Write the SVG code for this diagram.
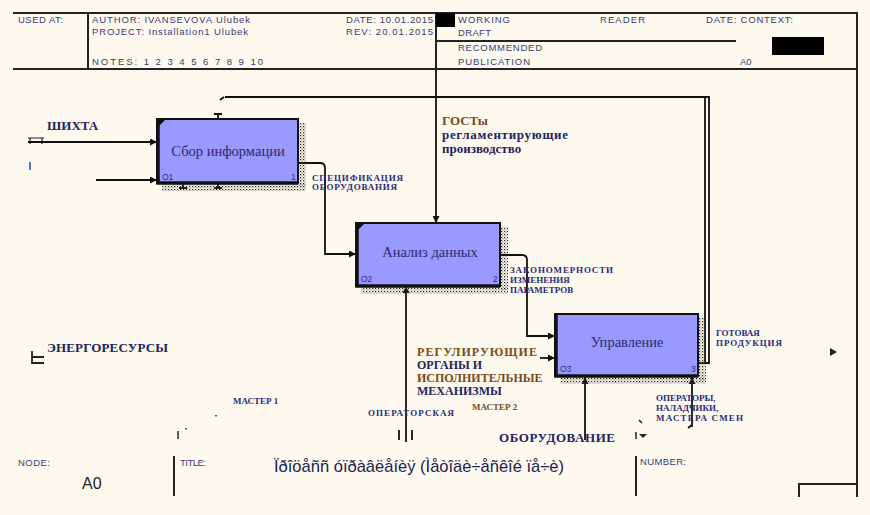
<svg xmlns="http://www.w3.org/2000/svg" width="870" height="515" viewBox="0 0 870 515">
<defs>
<style>
.bg{fill:#fdf9ef}
.frame{fill:none;stroke:#222;stroke-width:2}
.hdr{font-family:"Liberation Sans",Arial,sans-serif;font-size:9.5px;fill:#3a3a70}
.box{fill:#9999ff;stroke:#111;stroke-width:2}
.edge{stroke:#111;stroke-width:3.5;fill:none}
.btxt{font-family:"Liberation Serif","Times New Roman",serif;font-size:14.5px;fill:#2a2a6a;text-anchor:middle}
.num{font-family:"Liberation Sans",Arial,sans-serif;font-size:8.5px;fill:#2a2a8a}
.conn{fill:none;stroke:#111;stroke-width:1.8}
.lbl{font-family:"Liberation Serif","Times New Roman",serif;font-weight:bold;fill:#23235e}
.sm{font-family:"Liberation Serif","Times New Roman",serif;font-size:9px;font-weight:bold;fill:#2a2a7a}
.or{fill:#7a4a18}
</style>
<pattern id="dots" width="3" height="3" patternUnits="userSpaceOnUse">
<rect x="0" y="0" width="1.2" height="1.2" fill="#222"/>
<rect x="1.5" y="1.5" width="1" height="1" fill="#555"/>
</pattern>
<marker id="ah" viewBox="0 0 10 10" refX="10" refY="5" markerWidth="7" markerHeight="7" orient="auto" markerUnits="userSpaceOnUse">
<path d="M0,0 L10,5 L0,10 z" fill="#111"/>
</marker>
</defs>
<rect class="bg" x="0" y="0" width="870" height="515"/>

<g id="frame">
<path class="frame" d="M13,13 H857 V497 M13,69 H857 M88,13 V69 M436,13 V69 M436,41 H736 M799,497 V484 H857"/>
<rect x="436" y="13" width="19" height="14" fill="#000"/>
<rect x="772" y="37" width="52" height="18" fill="#000"/>
<text class="hdr" x="18" y="23" textLength="45">USED AT:</text>
<text class="hdr" x="92" y="23" textLength="158">AUTHOR:  IVANSEVOVA Ulubek</text>
<text class="hdr" x="92" y="35" textLength="156">PROJECT:  Installation1 Ulubek</text>
<text class="hdr" x="92" y="65" textLength="171">NOTES:  1  2  3  4  5  6  7  8  9  10</text>
<text class="hdr" x="346" y="23" textLength="87">DATE:  10.01.2015</text>
<text class="hdr" x="346" y="35" textLength="87">REV:  20.01.2015</text>
<text class="hdr" x="458" y="23" textLength="52">WORKING</text>
<text class="hdr" x="458" y="36" textLength="33">DRAFT</text>
<text class="hdr" x="458" y="51" textLength="84">RECOMMENDED</text>
<text class="hdr" x="458" y="65" textLength="72">PUBLICATION</text>
<text class="hdr" x="600" y="23" textLength="45">READER</text>
<text class="hdr" x="706" y="23" textLength="87">DATE:  CONTEXT:</text>
<text class="hdr" x="740" y="65">A0</text>
<path class="frame" d="M174,456 V496 M636,456 V496"/>
<text class="hdr" x="18" y="466" textLength="32">NODE:</text>
<text x="82" y="489" font-family="Liberation Sans,Arial,sans-serif" font-size="16" fill="#222">A0</text>
<text class="hdr" x="180" y="466" textLength="26">TITLE:</text>
<text x="274" y="472" font-family="Liberation Sans,Arial,sans-serif" font-size="17" fill="#222250" textLength="290" lengthAdjust="spacingAndGlyphs">Ïðîöåññ  óïðàâëåíèÿ (Ìåòîäè÷åñêîé ïå÷è)</text>
<text class="hdr" x="640" y="465" textLength="46">NUMBER:</text>
</g>

<g id="connectors">
<path class="conn" d="M28,142 H157" marker-end="url(#ah)"/>
<path class="conn" d="M96,180 H157" marker-end="url(#ah)"/>
<path class="conn" d="M298,163 H320 Q325,163 325,168 V254 H356" marker-end="url(#ah)"/>
<path class="conn" d="M436,69 V223" marker-end="url(#ah)"/>
<path class="conn" d="M225,97 H709 V363 H705 V97"/>
<path class="conn" d="M698,363 H705"/>
<path class="conn" d="M500,255 H522 Q527,255 527,260 V336 H555" marker-end="url(#ah)"/>
<path class="conn" d="M540,358 H555" marker-end="url(#ah)"/>
<path class="conn" d="M406,442 V286" marker-end="url(#ah)"/>
<path class="conn" d="M399,430 V440 M412,430 V440"/>
<path class="conn" d="M585,440 V377" marker-end="url(#ah)"/>
<path class="conn" d="M692,427 V377" marker-end="url(#ah)"/>
<path class="conn" d="M688,428 L692,425"/>
<path class="conn" d="M218,114 V119 M214,114 H222"/>
<path class="conn" d="M183,183 V188 M179,188 H187 M218,183 V188 M214,188 H222"/>
<path class="conn" d="M220,100 L224,97"/>
<path fill="none" stroke="#222" stroke-width="1.2" d="M28,138 H44 M30,138 V144 M42,138 V144"/>
<path fill="none" stroke="#222" stroke-width="1.8" d="M32,351 V364 M32,357 H44 M32,363 H44"/>
<path fill="none" stroke="#3a6ab0" stroke-width="1.8" d="M30,162 V170"/>
<path fill="none" stroke="#222" stroke-width="1.5" d="M178,431 V439 M186,428 V429.5 M216,415 V416.5 M636,432 V439 M639,420 L642,423"/>
<path fill="#222" d="M639,434 H647 L643,438 z M830,348 L837,352 L830,356 z"/>
</g>

<g id="node-A1">
<rect x="299" y="123" width="7" height="64" fill="url(#dots)"/>
<rect x="162" y="184" width="144" height="7" fill="url(#dots)"/>
<rect class="box" x="157" y="119" width="141" height="64"/>
<path class="edge" d="M158,119 V183 H298"/>
<path d="M158,120 H165 L158,127 z" fill="#111"/>
<text class="btxt" x="228" y="156">Сбор информации</text>
<text class="num" x="162" y="180">О1</text>
<text class="num" x="291" y="180">1</text>
</g>

<g id="node-A2">
<rect x="501" y="227" width="7" height="63" fill="url(#dots)"/>
<rect x="361" y="287" width="147" height="7" fill="url(#dots)"/>
<rect class="box" x="356" y="223" width="144" height="63"/>
<path class="edge" d="M357,223 V286 H500"/>
<path d="M357,224 H364 L357,231 z" fill="#111"/>
<text class="btxt" x="430" y="257">Анализ данных</text>
<text class="num" x="361" y="282">О2</text>
<text class="num" x="493" y="282">2</text>
</g>

<g id="node-A3">
<rect x="699" y="318" width="7" height="63" fill="url(#dots)"/>
<rect x="560" y="377" width="146" height="7" fill="url(#dots)"/>
<rect class="box" x="555" y="314" width="143" height="62"/>
<path class="edge" d="M556,314 V376 H698"/>
<text class="btxt" x="627" y="347">Управление</text>
<text class="num" x="560" y="372">О3</text>
<text class="num" x="691" y="372">3</text>
</g>

<g id="labels">
<text class="lbl" x="47" y="130" font-size="13">ШИХТА</text>
<text class="lbl" x="47" y="352" font-size="13" textLength="121">ЭНЕРГОРЕСУРСЫ</text>
<text class="lbl" font-size="13" x="442" y="125"><tspan class="or">ГОСТы</tspan></text>
<text class="lbl" font-size="13" x="442" y="139" font-weight="normal" textLength="126">регламентирующие</text>
<text class="lbl" font-size="13" x="442" y="153" font-weight="normal" fill="#5a3a80">производство</text>
<text class="sm" x="312" y="181" textLength="91">СПЕЦИФИКАЦИЯ</text>
<text class="sm" x="312" y="190" textLength="85">ОБОРУДОВАНИЯ</text>
<text class="sm" x="510" y="273" textLength="103">ЗАКОНОМЕРНОСТИ</text>
<text class="sm" x="510" y="283">ИЗМЕНЕНИЯ</text>
<text class="sm" x="510" y="293">ПАРАМЕТРОВ</text>
<text class="sm" x="716" y="336">ГОТОВАЯ</text>
<text class="sm" x="716" y="346" textLength="66">ПРОДУКЦИЯ</text>
<text class="lbl" font-size="12" x="417" y="356" textLength="120"><tspan class="or">РЕГУЛИРУЮЩИЕ</tspan></text>
<text class="lbl" font-size="12" x="417" y="369">ОРГАНЫ И</text>
<text class="lbl" font-size="12" x="417" y="382"><tspan class="or">ИСПОЛНИТЕЛЬНЫЕ</tspan></text>
<text class="lbl" font-size="12" x="417" y="395">МЕХАНИЗМЫ</text>
<text class="sm" x="233" y="404">МАСТЕР 1</text>
<text class="sm" x="472" y="410"><tspan class="or">МАСТЕР 2</tspan></text>
<text class="sm" x="368" y="416" textLength="86">ОПЕРАТОРСКАЯ</text>
<text class="sm" x="656" y="401">ОПЕРАТОРЫ,</text>
<text class="sm" x="656" y="411">НАЛАДЧИКИ,</text>
<text class="sm" x="656" y="421" textLength="87">МАСТЕРА СМЕН</text>
<text class="lbl" font-size="13" x="499" y="442" textLength="116">ОБОРУДОВАНИЕ</text>
</g>
</svg>
